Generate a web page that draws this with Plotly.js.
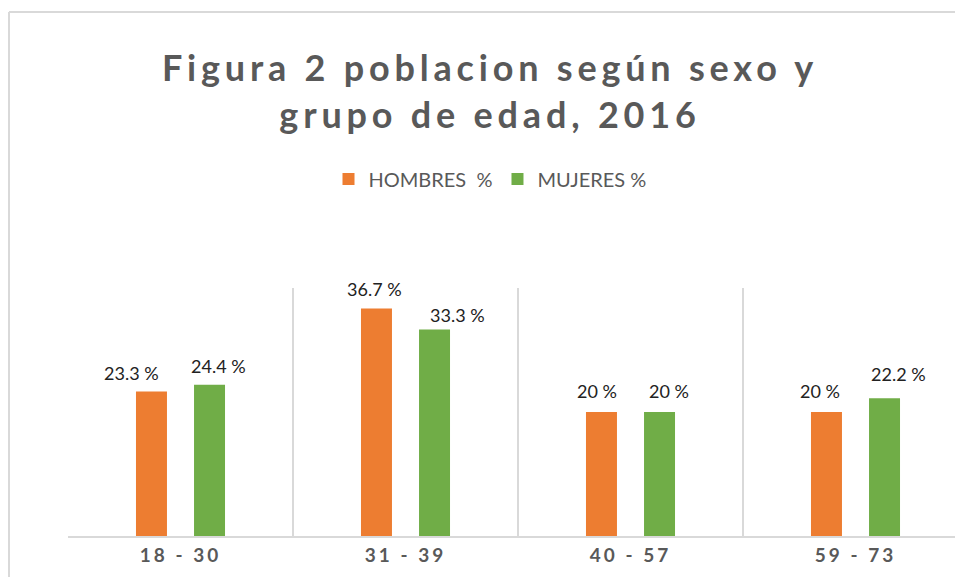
<!DOCTYPE html>
<html>
<head>
<meta charset="utf-8">
<script src="https://cdn.plot.ly/plotly-3.0.1.min.js"></script>
<style>
  html, body { margin: 0; padding: 0; overflow: hidden; background: #fff; }
  #chart { width: 980px; height: 577px; }
  .gtitle { letter-spacing: 4.8px; }
  .xtick text { letter-spacing: 3px; }
</style>
</head>
<body>
<div id="chart"></div>
<script>
const categories = ['18 - 30', '31 - 39', '40 - 57', '59 - 73'];
const hombres = [23.3, 36.7, 20, 20];
const mujeres = [24.4, 33.3, 20, 22.2];
const seriesNames = ['HOMBRES  %', 'MUJERES %'];
const titleText = 'Figura 2 poblacion según sexo y<br>grupo de edad, 2016';

// label placement (style only): pixel nudges of each data label, as in the original
const barHalfSlot = 29;
const hombresLabelDx = [-20, -2, -5, -7];
const mujeresLabelDx = [9, 23, 9, 14];
const hombresLabelDy = [6, 6, 8, 8];
const mujeresLabelDy = [6, 2, 8, 11];

const fmt = v => v + ' %';
const labelFont = { family: 'Lato, "Noto Sans", sans-serif', size: 18, color: '#222222' };

const traces = [
  { type: 'bar', name: seriesNames[0], x: categories, y: hombres,
    marker: { color: '#ED7D31' }, hoverinfo: 'x+y' },
  { type: 'bar', name: seriesNames[1], x: categories, y: mujeres,
    marker: { color: '#70AD47' }, hoverinfo: 'x+y' }
];

const annotations = [];
categories.forEach((c, j) => {
  annotations.push({ x: c, y: hombres[j], xref: 'x', yref: 'y', text: fmt(hombres[j]),
    showarrow: false, xanchor: 'center', yanchor: 'bottom', font: labelFont,
    xshift: -barHalfSlot + hombresLabelDx[j], yshift: hombresLabelDy[j] });
  annotations.push({ x: c, y: mujeres[j], xref: 'x', yref: 'y', text: fmt(mujeres[j]),
    showarrow: false, xanchor: 'center', yanchor: 'bottom', font: labelFont,
    xshift: barHalfSlot + mujeresLabelDx[j], yshift: mujeresLabelDy[j] });
});

// pixel -> paper helpers (plot area 68..968 x, 288..536 y)
const px = X => (X - 68) / 900;
const py = Y => (536 - Y) / 248;

const layout = {
  width: 980, height: 577,
  margin: { l: 68, r: 12, t: 288, b: 41 },
  paper_bgcolor: '#ffffff', plot_bgcolor: '#ffffff',
  title: {
    text: titleText,
    font: { family: 'Lato, "Noto Sans", sans-serif', size: 36, weight: 'bold', color: '#595959' },
    x: 490 / 980, xref: 'container', xanchor: 'center',
    y: 1 - 81 / 577, yref: 'container', yanchor: 'top'
  },
  showlegend: true,
  legend: {
    orientation: 'h', x: px(490), xanchor: 'center', y: py(179), yanchor: 'middle',
    font: { family: 'Lato, "Noto Sans", sans-serif', size: 20, color: '#595959' },
    traceorder: 'normal', itemclick: false
  },
  barmode: 'group', bargap: 0.484, bargroupgap: 0.466,
  xaxis: {
    type: 'category', tickson: 'boundaries', ticks: '',
    showgrid: true, gridcolor: '#d9d9d9', gridwidth: 1.5,
    showline: true, linecolor: '#d9d9d9', linewidth: 1.5,
    tickfont: { family: 'Lato, "Noto Sans", sans-serif', size: 19, weight: 'bold', color: '#595959' },
    ticklabelstandoff: 1, fixedrange: true
  },
  yaxis: {
    range: [0, 40], showgrid: false, zeroline: false, showline: false,
    showticklabels: false, ticks: '', fixedrange: true
  },
  annotations: annotations,
  shapes: [
    { type: 'line', xref: 'paper', yref: 'paper', x0: px(9), x1: px(9), y0: py(12), y1: py(600),
      line: { color: '#d9d9d9', width: 2 } },
    { type: 'line', xref: 'paper', yref: 'paper', x0: px(9), x1: px(1000), y0: py(12), y1: py(12),
      line: { color: '#d9d9d9', width: 2 } }
  ]
};

Plotly.newPlot('chart', traces, layout, { displayModeBar: false, responsive: false });
</script>
</body>
</html>
